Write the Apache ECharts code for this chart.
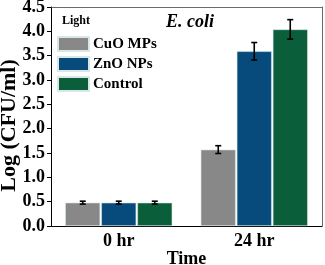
<!DOCTYPE html>
<html>
<head>
<meta charset="utf-8">
<script src="https://cdn.jsdelivr.net/npm/echarts@6/dist/echarts.min.js"></script>
<style>
  html, body { margin: 0; padding: 0; background: #fff; }
  #main { width: 325px; height: 265px; }
</style>
</head>
<body>
<div id="main"></div>
<script>
var categories = ['0 hr', '24 hr'];
var seriesNames = ['CuO MPs', 'ZnO NPs', 'Control'];
var cuoValues = [0.48, 1.57];
var znoValues = [0.48, 3.59];
var controlValues = [0.48, 4.04];
var cuoErrors = [0.03, 0.08];
var znoErrors = [0.03, 0.18];
var controlErrors = [0.03, 0.20];
var yTicks = ['0.0', '0.5', '1.0', '1.5', '2.0', '2.5', '3.0', '3.5', '4.0', '4.5'];

var colors = ['#888888', '#064b7b', '#0b5e3a'];
var font = 'Liberation Serif';

var valueSets = [cuoValues, znoValues, controlValues];
var errorSets = [cuoErrors, znoErrors, controlErrors];

var barSeries = seriesNames.map(function (name, i) {
    return {
        name: name,
        type: 'bar',
        barWidth: 35,
        barGap: '3%',
        itemStyle: { color: colors[i], borderColor: '#d8e8e8', borderWidth: 0.6 },
        data: valueSets[i]
    };
});

// error bars drawn on top, offset to match each bar
var errorSeries = seriesNames.map(function (name, i) {
    var offset = (i - 1) * 36;
    return {
        type: 'custom',
        name: name + ' err',
        z: 10,
        renderItem: function (params, api) {
            var x = api.value(0);
            var v = api.value(1);
            var e = api.value(2);
            var hi = api.coord([x, v + e]);
            var lo = api.coord([x, v - e]);
            var cx = hi[0] + offset;
            var st = { stroke: '#000', lineWidth: 1.6 };
            return {
                type: 'group',
                children: [
                    { type: 'line', shape: { x1: cx, y1: hi[1], x2: cx, y2: lo[1] }, style: st },
                    { type: 'line', shape: { x1: cx - 3, y1: hi[1], x2: cx + 3, y2: hi[1] }, style: st },
                    { type: 'line', shape: { x1: cx - 3, y1: lo[1], x2: cx + 3, y2: lo[1] }, style: st }
                ]
            };
        },
        data: categories.map(function (c, j) {
            return [j, valueSets[i][j], errorSets[i][j]];
        })
    };
});

var option = {
    animation: false,
    grid: { left: 51, right: 3, top: 7, bottom: 39, containLabel: false, outerBoundsMode: 'none' },
    title: {
        text: 'E. coli',
        left: 185,
        top: 8,
        textAlign: 'center',
        textStyle: { fontFamily: font, fontWeight: 'bold', fontStyle: 'italic', fontSize: 18, color: '#000' }
    },
    graphic: [{
        type: 'text',
        left: 62,
        top: 15,
        style: { text: 'Light', font: 'bold 12px "Liberation Serif"', fill: '#000' }
    }],
    legend: {
        data: seriesNames,
        orient: 'vertical',
        left: 57,
        top: 36,
        padding: 0,
        itemWidth: 31,
        itemHeight: 14,
        itemGap: 4,
        icon: 'rect',
        textStyle: { fontFamily: font, fontWeight: 'bold', fontSize: 15, color: '#000', padding: [0, 0, 0, -1] }
    },
    xAxis: {
        type: 'category',
        data: categories,
        name: 'Time',
        nameLocation: 'middle',
        nameGap: 24,
        nameMoveOverlap: false,
        nameTextStyle: { fontFamily: font, fontWeight: 'bold', fontSize: 18, color: '#000' },
        axisLine: { lineStyle: { color: '#000', width: 1 } },
        axisTick: { show: false },
        axisLabel: { fontFamily: font, fontWeight: 'bold', fontSize: 18, color: '#000', margin: 6 },
        splitLine: { show: false }
    },
    yAxis: [{
        type: 'value',
        min: 0,
        max: 4.5,
        interval: 0.5,
        name: 'Log (CFU/ml)',
        nameLocation: 'middle',
        nameGap: 31,
        nameMoveOverlap: false,
        nameTextStyle: { fontFamily: font, fontWeight: 'bold', fontSize: 22, color: '#000', padding: [0, 18, 0, 0] },
        axisLine: { show: true, lineStyle: { color: '#000', width: 1 } },
        axisTick: { show: true, length: 4, lineStyle: { color: '#000' } },
        axisLabel: {
            fontFamily: font, fontWeight: 'bold', fontSize: 18, color: '#000', margin: 6,
            formatter: function (v) { return yTicks[Math.round(v / 0.5)]; }
        },
        splitLine: { show: false }
    }, {
        type: 'value',
        min: 0,
        max: 4.5,
        position: 'right',
        axisLine: { show: true, lineStyle: { color: '#444', width: 0.8 } },
        axisTick: { show: false },
        axisLabel: { show: false },
        splitLine: { show: false }
    }],
    series: barSeries.concat(errorSeries).concat([{
        type: 'line',
        data: [],
        markLine: {
            silent: true,
            symbol: 'none',
            label: { show: false },
            lineStyle: { color: '#444', width: 0.8, type: 'solid' },
            data: [{ yAxis: 4.5 }]
        }
    }])
};

var myChart = echarts.init(document.getElementById('main'));
myChart.setOption(option);
</script>
</body>
</html>
